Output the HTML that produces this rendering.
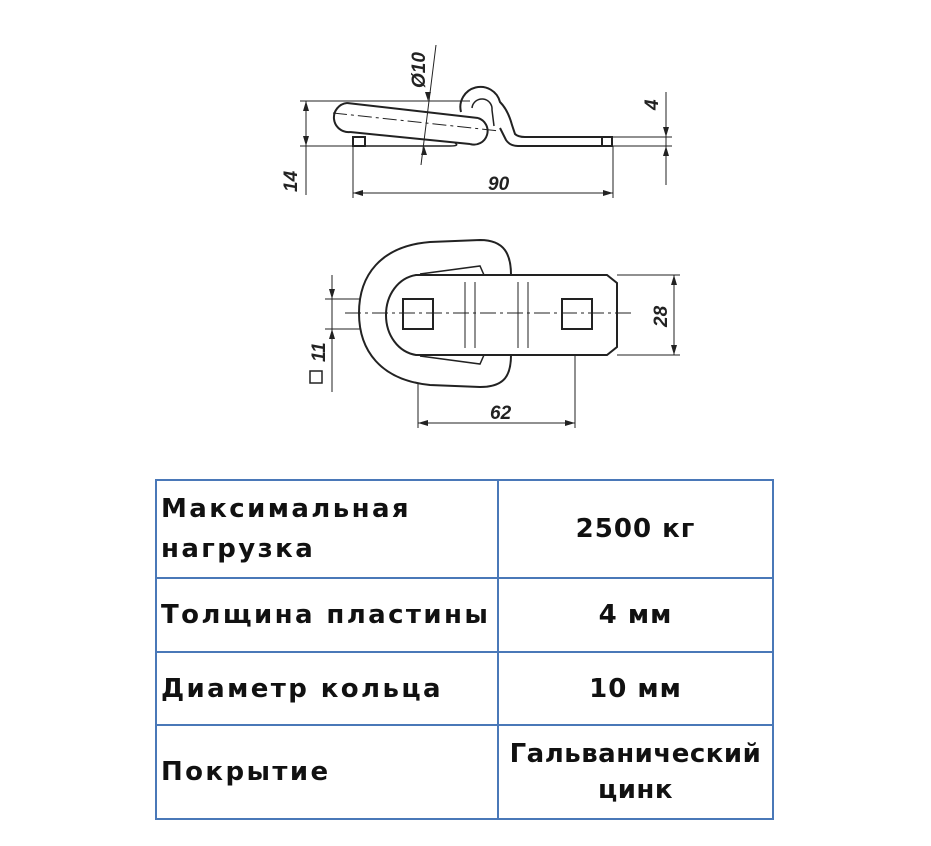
<!DOCTYPE html>
<html><head><meta charset="utf-8"><style>
body{margin:0;background:#fff;width:931px;height:846px;overflow:hidden;position:relative;font-family:"DejaVu Sans","Liberation Sans",sans-serif}
svg{position:absolute;left:0;top:0}
table{position:absolute;left:155px;top:479px;border-collapse:collapse;width:619px}
td{border:2px solid #4a78b8;font-weight:bold;font-size:26px;letter-spacing:2.4px;color:#111;padding:0 0 0 4px;line-height:40px;white-space:nowrap}
td.r{text-align:center;padding:0;width:273px;letter-spacing:1px}
</style></head><body>
<svg width="931" height="470" viewBox="0 0 931 470" fill="none" stroke="#222" stroke-width="2">
<path d="M347 103 L478 118 M350 132 L470 144" />
<path d="M347 103 A14.5 14.5 0 0 0 350 132" />
<path d="M478 118 A13 13 0 0 1 470 144" />
<path d="M461 112 A20 20 0 0 1 500 102 Q508 110 512 125 L515 134 Q518 137 525 137 L612 137 L612 146 L518 146 Q510 146 506 140 L500 128" />
<path d="M472 108 A10 10 0 0 1 492 110 L494 126" stroke-width="1.5"/>
<path d="M353 137 L365 137 L365 146 L353 146 Z M602 137 L602 146" />
<path d="M365 146 L450 146 Q460 146 455 143" stroke-width="1.5"/>
<g stroke-width="1">
<path d="M300 101 L470 101 M300 146 L353 146 M612 137 L672 137 M612 146 L672 146"/>
<path d="M306 101 L306 146 M306 146 L306 195"/>
<path d="M333 113 L500 131" stroke-dasharray="14 4 3 4"/>
<path d="M436 45 L421 165"/>
<path d="M666 92 L666 185"/>
<path d="M353 146 L353 198 M613 146 L613 198 M353 193 L613 193"/>
<path d="M418 313 L418 428 M575 313 L575 428 M418 423 L575 423"/>
<path d="M674 275 L674 355 M617 275 L680 275 M617 355 L680 355"/>
<path d="M332 275 L332 392 M325 299 L433 299 M325 329 L433 329"/>
</g>
<g fill="#222" stroke="none">
<path d="M306 101 l-3 10 h6z M306 146 l-3 -10 h6z M353 193 l10 -3 v6z M613 193 l-10 -3 v6z M666 137 l-3 -10 h6z M666 146 l-3 10 h6z M418 423 l10 -3 v6z M575 423 l-10 -3 v6z M674 275 l-3 10 h6z M674 355 l-3 -10 h6z M332 299 l-3 -10 h6z M332 329 l-3 10 h6z M428 101 l-3 -9 h6z M424 146 l-3 9 h6z"/>
</g>
<path d="M480 240 C505 240 511 255 511 275 L511 355 C511 375 505 387 480 387 L430 385 C380 380 359 350 359 313 C359 276 380 246 430 242 Z" fill="#fff"/>
<path d="M416 275 L607 275 L617 283 L617 347 L607 355 L416 355 C398 352 386 335 386 315 C386 295 398 278 416 275 Z" fill="#fff"/>
<path d="M420 274 L480 266 L484 275 M420 356 L480 364 L484 355" stroke-width="1.5"/>
<rect x="403" y="299" width="30" height="30"/>
<rect x="562" y="299" width="30" height="30"/>
<path d="M465 282 L465 348 M475 282 L475 348 M518 282 L518 348 M528 282 L528 348" stroke-width="1"/>
<path d="M345 313 L635 313" stroke-width="1" stroke-dasharray="16 4 3 4"/>
<g fill="#222" stroke="none" font-family="Liberation Sans, sans-serif" font-weight="bold" font-style="italic" font-size="19">
<text x="0" y="0" transform="translate(425,88) rotate(-90)">Ø10</text>
<text x="0" y="0" transform="translate(297,192) rotate(-90)">14</text>
<text x="0" y="0" transform="translate(658,110) rotate(-90)">4</text>
<text x="488" y="190">90</text>
<text x="490" y="419">62</text>
<text x="0" y="0" transform="translate(667,327) rotate(-90)">28</text>
<text x="0" y="0" transform="translate(325,362) rotate(-90)">11</text>
</g>
<rect x="310" y="371" width="12" height="12" stroke-width="1.5"/>
</svg>
<table>
<tr style="height:98px"><td>Максимальная<br>нагрузка</td><td class="r">2500 кг</td></tr>
<tr style="height:74px"><td>Толщина пластины</td><td class="r">4 мм</td></tr>
<tr style="height:73px"><td>Диаметр кольца</td><td class="r">10 мм</td></tr>
<tr style="height:94px"><td>Покрытие</td><td class="r" style="line-height:36px;letter-spacing:0.5px">Гальванический<br>цинк</td></tr>
</table>
</body></html>
